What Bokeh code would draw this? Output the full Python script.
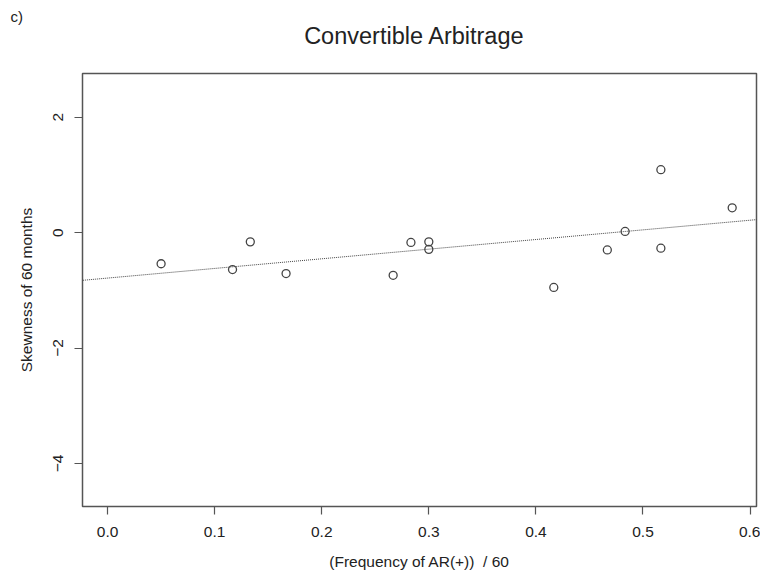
from bokeh.plotting import figure
from bokeh.layouts import column
from bokeh.models import Range1d, Slope, FixedTicker, NumeralTickFormatter
from bokeh.core.properties import value
from bokeh.embed import file_html
from bokeh.resources import INLINE

# Data
freq = [0.0500, 0.1167, 0.1333, 0.1667, 0.2667, 0.2833, 0.3000, 0.3000,
        0.4167, 0.4667, 0.4833, 0.5167, 0.5167, 0.5833]
skew = [-0.54, -0.64, -0.16, -0.71, -0.74, -0.17, -0.16, -0.29,
        -0.95, -0.30, 0.02, 1.09, -0.27, 0.43]
fit_intercept = -0.788
fit_slope = 1.671
x_ticks = [0.0, 0.1, 0.2, 0.3, 0.4, 0.5, 0.6]
y_ticks = [-4, -2, 0, 2]
panel_label = "c)"
title_text = "Convertible Arbitrage"

FONT = "Liberation Sans"
GRAY = "#555555"
TXT = "#222222"

# header strip: panel label as its title, chart title as text in its frame
HDR_H = 66
HDR_TOP = 24
hdr = figure(width=760, height=HDR_H, x_range=Range1d(82, 756),
             y_range=Range1d(HDR_H, HDR_TOP),
             output_backend="svg", toolbar_location=None,
             min_border_left=82, min_border_right=4,
             min_border_top=HDR_TOP, min_border_bottom=0,
             x_axis_location=None, y_axis_location=None)
hdr.grid.visible = False
hdr.outline_line_color = None
hdr.title.text = panel_label
hdr.title.align = "left"
hdr.title.offset = -72
hdr.title.standoff = 0
hdr.title.text_font = FONT
hdr.title.text_font_size = "15px"
hdr.title.text_font_style = "normal"
hdr.title.text_color = TXT
hdr.text(x=[414], y=[35], text=[title_text], text_font=value(FONT),
         text_font_size="23.5px", text_color=TXT, text_align="center",
         text_baseline="middle")

p = figure(width=760, height=575 - HDR_H,
           x_range=Range1d(-0.0234, 0.606), y_range=Range1d(-4.746, 2.757),
           output_backend="svg", toolbar_location=None,
           min_border_left=82, min_border_right=4,
           min_border_top=7, min_border_bottom=69)

p.grid.visible = False
p.outline_line_color = GRAY
p.outline_line_width = 1.5

for ax in (p.xaxis[0], p.yaxis[0]):
    ax.axis_line_color = None
    ax.major_tick_line_color = GRAY
    ax.major_tick_line_width = 1.2
    ax.major_tick_out = 8
    ax.major_tick_in = 0
    ax.minor_tick_line_color = None
    ax.major_label_text_font = FONT
    ax.major_label_text_font_size = "15.5px"
    ax.major_label_text_color = TXT
    ax.axis_label_text_font = FONT
    ax.axis_label_text_font_size = "15.5px"
    ax.axis_label_text_font_style = "normal"
    ax.axis_label_text_color = TXT

p.xaxis.major_label_standoff = 12
p.xaxis.axis_label_standoff = 13
p.yaxis.major_label_standoff = 11
p.yaxis.axis_label_standoff = 16

p.xaxis.ticker = FixedTicker(ticks=x_ticks)
p.xaxis.formatter = NumeralTickFormatter(format="0.0")
p.xaxis.axis_label = "(Frequency of AR(+))\u00a0\u00a0/ 60"
p.yaxis.ticker = FixedTicker(ticks=y_ticks)
p.yaxis.major_label_orientation = "vertical"
p.yaxis.axis_label = "Skewness of 60 months"

p.add_layout(Slope(gradient=fit_slope, y_intercept=fit_intercept,
                   line_color="#444444", line_width=1, line_dash="1 1"))

p.scatter(freq, skew, marker="circle", size=8, fill_color=None,
          line_color="#444444", line_width=1.3)

layout = column(hdr, p, spacing=0)
open("out.html", "w").write(file_html(layout, INLINE))
